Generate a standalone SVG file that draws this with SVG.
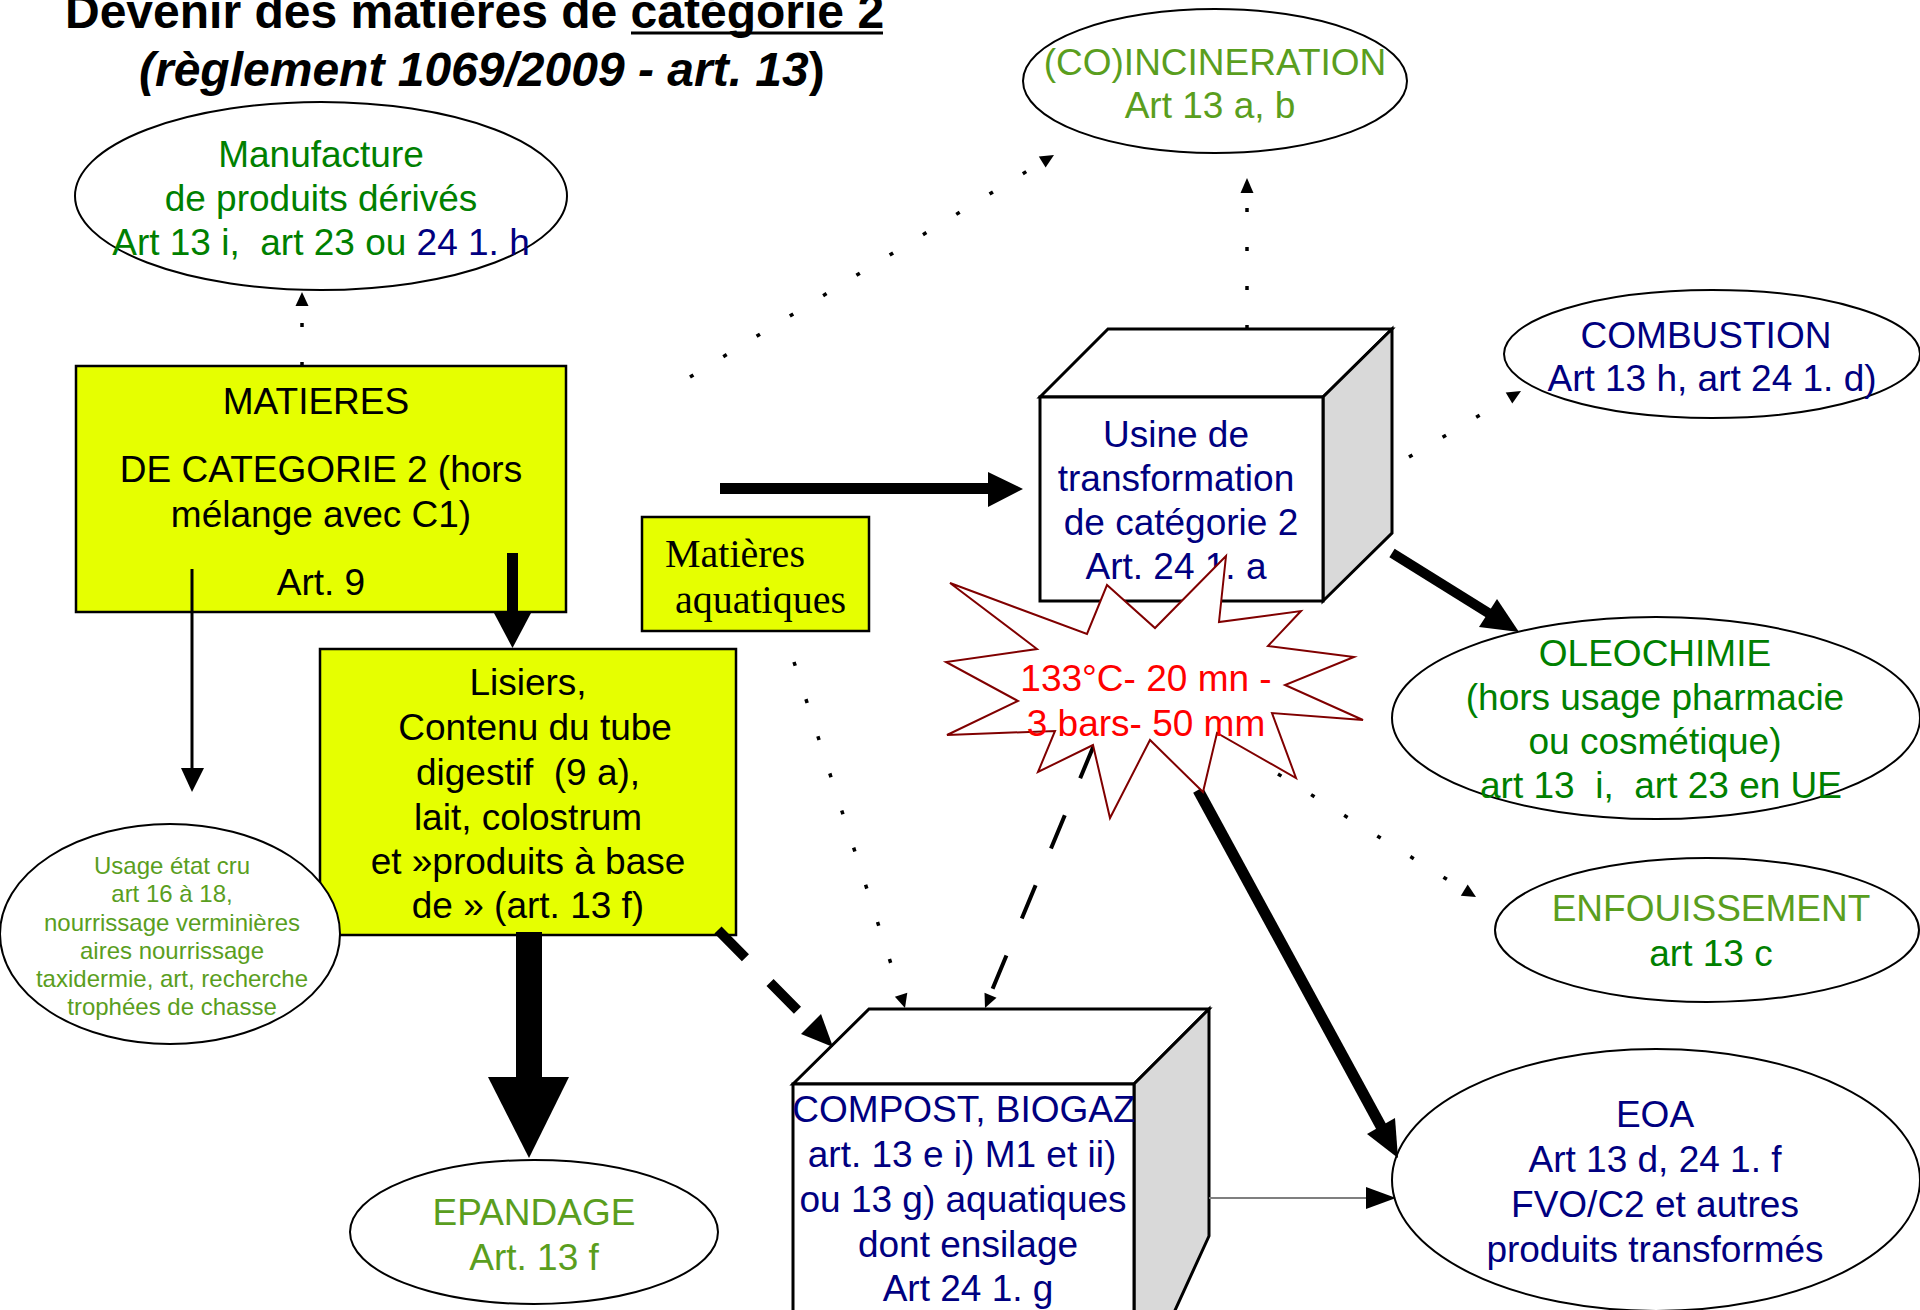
<svg xmlns="http://www.w3.org/2000/svg" width="1920" height="1310" viewBox="0 0 1920 1310">
<style>
.t{font-family:"Liberation Sans",Arial,sans-serif;font-size:37px;text-anchor:middle}
.ser{font-family:"Liberation Serif","Times New Roman",serif;font-size:40px;fill:#000}
.ell{fill:#fff;stroke:#000;stroke-width:2}
.box{fill:#E6FF00;stroke:#000;stroke-width:2.5}
.cube{stroke:#000;stroke-width:3;stroke-linejoin:miter}
.dot{fill:none;stroke:#000;stroke-width:3.5;stroke-dasharray:4 35}
.dash{fill:none;stroke:#000;stroke-width:4;stroke-dasharray:36 40}
.navy{fill:#000080}.dg{fill:#008000}.lg{fill:#5A9E1E}.blk{fill:#000}.red{fill:#FF0000}
.ah{fill:#000}
</style>
<rect width="1920" height="1310" fill="#fff"/>

<g id="title" font-family="Liberation Sans, Arial, sans-serif" font-weight="bold" font-size="48">
<text x="65" y="28">Devenir des matières de catégorie 2</text>
<line x1="631" y1="33" x2="883" y2="33" stroke="#000" stroke-width="3"/>
<text x="139" y="86"><tspan font-style="italic">(règlement 1069/2009 - art. 13</tspan>)</text>
</g>

<g id="node-lisiers">
<rect class="box" x="320" y="649" width="416" height="286"/>
<text class="t blk" xml:space="preserve"><tspan x="528" y="695">Lisiers,</tspan><tspan x="530" y="740"> Contenu du tube</tspan><tspan x="528" y="785">digestif  (9 a),</tspan><tspan x="528" y="830">lait, colostrum</tspan><tspan x="528" y="874">et »produits à base</tspan><tspan x="528" y="918">de » (art. 13 f)</tspan></text>
</g>

<g id="node-usage">
<ellipse class="ell" cx="170" cy="934" rx="170" ry="110"/>
<text class="t lg" style="font-size:24px"><tspan x="172" y="874">Usage état cru</tspan><tspan x="172" y="902">art 16 à 18,</tspan><tspan x="172" y="931">nourrissage verminières</tspan><tspan x="172" y="959">aires nourrissage</tspan><tspan x="172" y="987">taxidermie, art, recherche</tspan><tspan x="172" y="1015">trophées de chasse</tspan></text>
</g>

<g id="node-manufacture">
<ellipse class="ell" cx="321" cy="196" rx="246" ry="94"/>
<text class="t dg" xml:space="preserve"><tspan x="321" y="167">Manufacture</tspan><tspan x="321" y="211">de produits dérivés</tspan><tspan x="321" y="255">Art 13 i,  art 23 ou <tspan class="navy">24 1. h</tspan></tspan></text>
</g>

<g id="node-matieres">
<rect class="box" x="76" y="366" width="490" height="246"/>
<text class="t blk"><tspan x="316" y="414">MATIERES</tspan><tspan x="321" y="482">DE CATEGORIE 2 (hors</tspan><tspan x="321" y="527">mélange avec C1)</tspan><tspan x="321" y="595">Art. 9</tspan></text>
</g>

<g id="node-aquatiques">
<rect class="box" x="642" y="517" width="227" height="114"/>
<text class="ser"><tspan x="665" y="567">Matières</tspan><tspan x="675" y="613">aquatiques</tspan></text>
</g>

<g id="node-incineration">
<ellipse class="ell" cx="1215" cy="81" rx="192" ry="72"/>
<text class="t lg"><tspan x="1215" y="75">(CO)INCINERATION</tspan><tspan x="1210" y="118">Art 13 a, b</tspan></text>
</g>

<g id="node-combustion">
<ellipse class="ell" cx="1712" cy="354" rx="208" ry="64"/>
<text class="t navy"><tspan x="1706" y="348">COMBUSTION</tspan><tspan x="1712" y="391">Art 13 h, art 24 1. d)</tspan></text>
</g>

<g id="node-oleochimie">
<ellipse class="ell" cx="1656" cy="718" rx="264" ry="101"/>
<text class="t dg" xml:space="preserve"><tspan x="1655" y="666">OLEOCHIMIE</tspan><tspan x="1655" y="710">(hors usage pharmacie</tspan><tspan x="1655" y="754">ou cosmétique)</tspan><tspan x="1661" y="798">art 13  i,  art 23 en UE</tspan></text>
</g>

<g id="node-enfouissement">
<ellipse class="ell" cx="1707" cy="930" rx="212" ry="72"/>
<text class="t"><tspan class="lg" x="1711" y="921">ENFOUISSEMENT</tspan><tspan class="dg" x="1711" y="966">art 13 c</tspan></text>
</g>

<g id="node-epandage">
<ellipse class="ell" cx="534" cy="1232" rx="184" ry="72"/>
<text class="t lg"><tspan x="534" y="1225">EPANDAGE</tspan><tspan x="534" y="1270">Art. 13 f</tspan></text>
</g>

<g id="node-eoa">
<ellipse class="ell" cx="1656" cy="1180" rx="264" ry="131"/>
<text class="t navy"><tspan x="1655" y="1127">EOA</tspan><tspan x="1655" y="1172">Art 13 d, 24 1. f</tspan><tspan x="1655" y="1217">FVO/C2 et autres</tspan><tspan x="1655" y="1262">produits transformés</tspan></text>
</g>

<g id="node-compost">
<polygon class="cube" fill="#fff" points="793,1084 869,1009 1209,1009 1134,1084"/>
<polygon class="cube" fill="#D9D9D9" points="1134,1084 1209,1009 1209,1236 1134,1400"/>
<rect class="cube" fill="#fff" x="793" y="1084" width="341" height="320"/>
<text class="t navy"><tspan x="964" y="1122">COMPOST, BIOGAZ</tspan><tspan x="962" y="1167">art. 13 e i) M1 et ii)</tspan><tspan x="963" y="1212">ou 13 g) aquatiques</tspan><tspan x="968" y="1257">dont ensilage</tspan><tspan x="968" y="1301">Art 24 1. g</tspan></text>
</g>

<g id="node-usine">
<polygon class="cube" fill="#fff" points="1040,397 1108,329 1392,329 1323,397"/>
<polygon class="cube" fill="#D9D9D9" points="1323,397 1392,329 1392,533 1323,601"/>
<rect class="cube" fill="#fff" x="1040" y="397" width="283" height="204"/>
<text class="t navy"><tspan x="1176" y="447">Usine de</tspan><tspan x="1176" y="491">transformation</tspan><tspan x="1181" y="535">de catégorie 2</tspan><tspan x="1176" y="579">Art. 24 1. a</tspan></text>
</g>

<g id="connectors">
<line class="dot" x1="302" y1="366" x2="302" y2="306"/>
<polygon class="ah" points="302,292 295.5,306 308.5,306"/>
<line class="dot" x1="690" y1="377" x2="1042" y2="162"/>
<polygon class="ah" points="1054,155 1038.8,156.5 1045.6,167.6"/>
<line class="dot" x1="1247" y1="329" x2="1247" y2="193"/>
<polygon class="ah" points="1247,178 1240.5,193 1253.5,193"/>
<line class="dot" x1="1409" y1="457" x2="1509" y2="398"/>
<polygon class="ah" points="1521,391 1505.7,392.5 1512.3,403.5"/>
<line class="dot" x1="1278" y1="774" x2="1464" y2="890"/>
<polygon class="ah" points="1476,897 1460.8,895.7 1467.7,884.6"/>
<line class="dot" x1="794" y1="662" x2="901" y2="995"/>
<polygon class="ah" points="905,1008 894.9,996.7 907.3,992.7"/>
<line class="dash" x1="1094" y1="745" x2="990" y2="995"/>
<polygon class="ah" points="985,1008 984.5,992.7 996.5,997.7"/>
<line fill="none" stroke="#000" stroke-width="10" stroke-dasharray="39 35" x1="718" y1="930" x2="811" y2="1024"/>
<polygon class="ah" points="833,1047 801,1034 821,1014"/>
<line stroke="#000" stroke-width="3" x1="192" y1="569" x2="192" y2="770"/>
<polygon class="ah" points="192,792 181,768 204,768"/>
<rect class="ah" x="507" y="553" width="11" height="61"/>
<polygon class="ah" points="494,613 531,613 512.5,648"/>
<rect class="ah" x="516" y="932" width="26" height="146"/>
<polygon class="ah" points="488,1077 569,1077 529,1158"/>
<rect class="ah" x="720" y="483" width="269" height="11"/>
<polygon class="ah" points="988,472 988,507 1023,489"/>
<line stroke="#000" stroke-width="10" x1="1392" y1="553" x2="1490" y2="614"/>
<polygon class="ah" points="1519,632 1479,627 1497,599"/>
<line stroke="#000" stroke-width="11" x1="1198" y1="790" x2="1383" y2="1130"/>
<polygon class="ah" points="1398,1158 1367,1134 1395,1118"/>
<line stroke="#7F7F7F" stroke-width="2" x1="1209" y1="1198" x2="1368" y2="1198"/>
<polygon class="ah" points="1366,1187 1366,1209 1396,1198"/>
</g>

<g id="node-star">
<polygon fill="#fff" stroke="#800000" stroke-width="2" points="950,583 1087,634 1107,585 1155,628 1226,556 1219,622 1301,611 1268,646 1354,657 1285,685 1363,720 1272,713 1296,778 1217,733 1203,792 1150,740 1110,818 1093,745 1038,772 1055,731 947,735 1018,701 946,662 1037,649"/>
<text class="t red"><tspan x="1146" y="691">133°C- 20 mn -</tspan><tspan x="1146" y="736">3 bars- 50 mm</tspan></text>
</g>
</svg>
